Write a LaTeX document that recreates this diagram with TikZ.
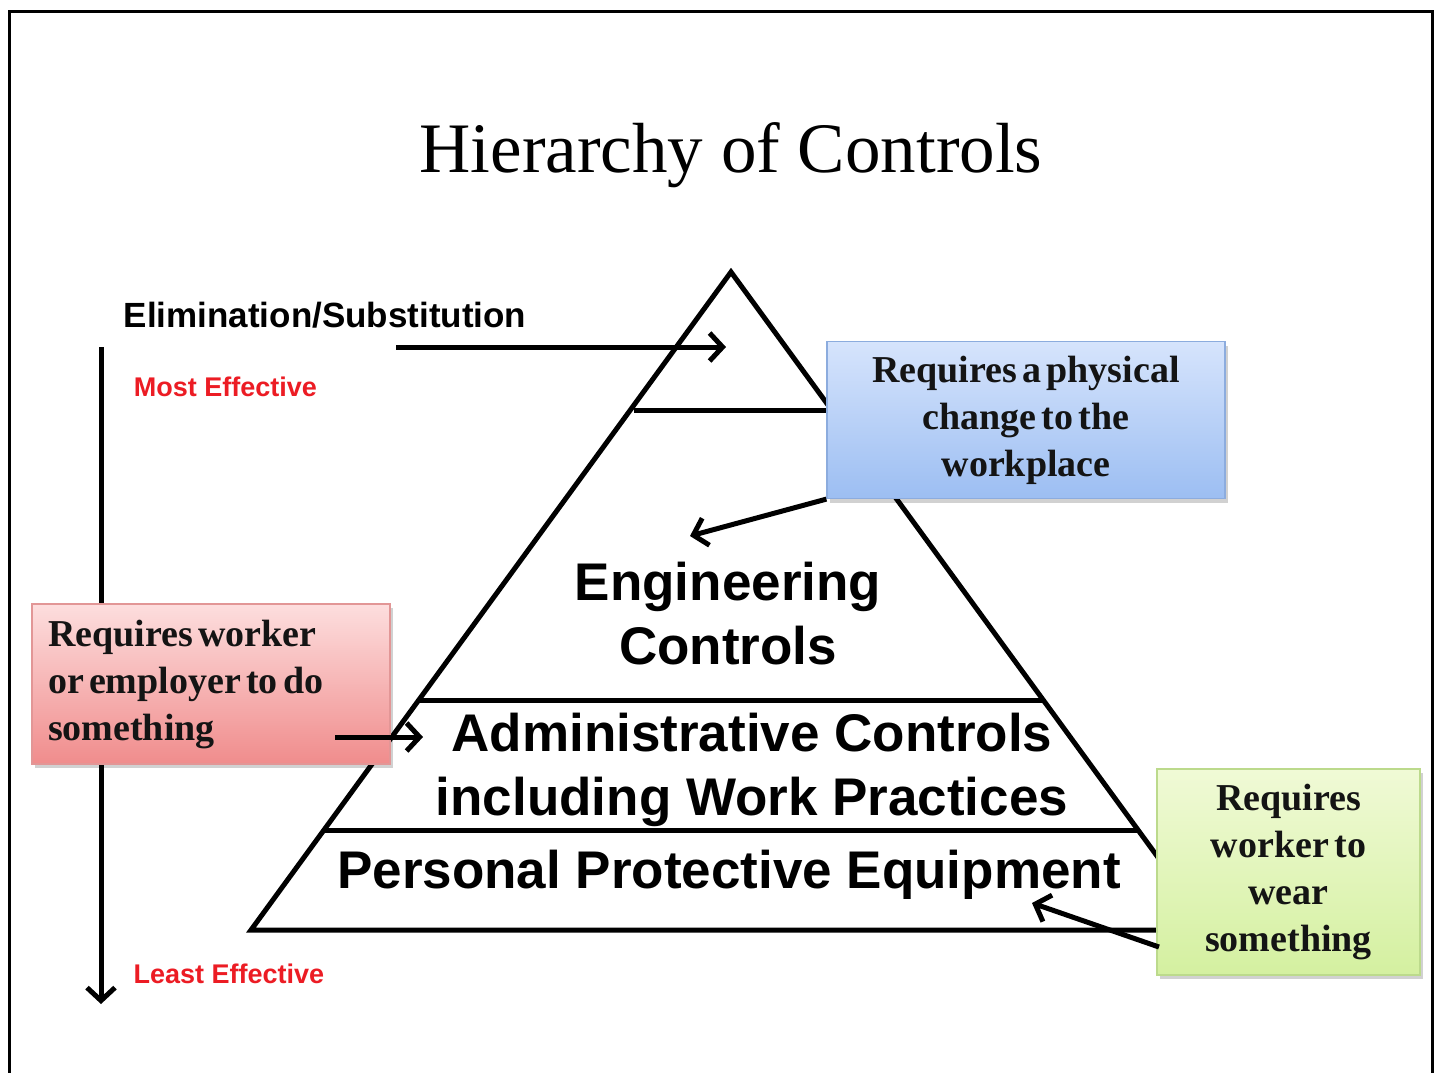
\documentclass[tikz,border=0pt]{standalone}
\usepackage{fontspec}
\setmainfont{Liberation Serif}
\setsansfont{Liberation Sans}
\newfontfamily\boxfont{Liberation Serif}[WordSpace=0.55]
\usetikzlibrary{arrows.meta,shadows}
\definecolor{bluetop}{RGB}{214,228,252}
\definecolor{bluebot}{RGB}{156,190,242}
\definecolor{blueedge}{RGB}{140,172,222}
\definecolor{redtop}{RGB}{253,222,222}
\definecolor{redbot}{RGB}{240,140,140}
\definecolor{rededge}{RGB}{226,150,150}
\definecolor{greentop}{RGB}{240,250,214}
\definecolor{greenbot}{RGB}{212,240,160}
\definecolor{greenedge}{RGB}{188,218,140}
\definecolor{effred}{RGB}{236,28,36}
\tikzset{
  pyr/.style={line width=5pt, line join=miter},
  arr/.style={line width=5pt, -{Straight Barb[length=13pt,width=28pt]}},
  callout/.style={draw, line width=1.2pt, inner xsep=14pt, inner ysep=0pt,
    font=\boxfont\fontsize{38}{47}\selectfont\bfseries, text=black!92,
    drop shadow={shadow xshift=3pt, shadow yshift=-4pt, opacity=0.18, fill=black}},
  levelsans/.style={font=\sffamily\bfseries\fontsize{53}{64}\selectfont, align=center, inner sep=0pt},
  sidelabel/.style={font=\sffamily\bfseries, inner sep=0pt},
}
\begin{document}
\begin{tikzpicture}[x=1pt,y=-1pt]
\useasboundingbox (0,0) rectangle (1438,1072);
\fill[white] (0,0) rectangle (1438,1072);
% frame
\draw[line width=3pt] (9,1080) -- (9,11) -- (1432,11) -- (1432,1080);

% title
\node[font=\fontsize{71}{80}\selectfont, anchor=base, inner sep=0pt] (title) at (731,172) {Hierarchy of Controls};

% pyramid
\coordinate (apex) at (731,272);
\coordinate (bl) at (251,930);
\coordinate (br) at (1211,930);
\draw[pyr] (bl) -- (apex) -- (br) -- cycle;
\draw[pyr] (634,410) -- (832,410);
\draw[pyr] (418,700) -- (1044,700);
\draw[pyr] (323,830) -- (1139,830);

% pyramid texts
\node[levelsans] (eng) at (728,614) {Engineering\\Controls};
\node[levelsans] (admin) at (752,770) {Administrative Controls\\including Work Practices};
\node[levelsans] (ppe) at (729,875) {Personal Protective Equipment};

% left side labels
\node[sidelabel, font=\sffamily\bfseries\fontsize{35}{40}\selectfont] (elim) at (325,315) {Elimination/Substitution};
\node[sidelabel, font=\sffamily\bfseries\fontsize{27}{30}\selectfont, text=effred] (most) at (225.5,387) {Most Effective};
\node[sidelabel, font=\sffamily\bfseries\fontsize{27}{30}\selectfont, text=effred] (least) at (229,974) {Least Effective};

% effectiveness axis
\coordinate (axtop) at (101,347);
\coordinate (axbot) at (101,1004);
\draw[arr] (axtop) -- (axbot);

% elimination arrow
\coordinate (elimstart) at (396,347);
\coordinate (elimend) at (726,347);
\draw[arr] (elimstart) -- (elimend);

% callout boxes
\node[callout, top color=bluetop, bottom color=bluebot, draw=blueedge,
  minimum width=398pt, minimum height=157pt, align=center] (blue) at (1026,420)
  {Requires a physical\\change to the\\workplace};
\node[callout, top color=redtop, bottom color=redbot, draw=rededge,
  minimum width=358pt, minimum height=160pt, text width=326pt, inner xsep=16pt, align=flush left] (red) at (211,684)
  {Requires worker\\or employer to do\\something};
\node[callout, top color=greentop, bottom color=greenbot, draw=greenedge,
  minimum width=263pt, minimum height=206pt, align=center] (green) at (1288.5,872)
  {Requires\\worker to\\wear\\something};

% callout arrows
\coordinate (engtgt) at (690,536);
\draw[arr] (blue.south west) -- (engtgt);
\coordinate (redstart) at (335,737);
\coordinate (admintgt) at (423,737);
\draw[arr] (redstart) -- (admintgt);
\coordinate (greenstart) at (1159,947);
\coordinate (ppetgt) at (1032,903);
\draw[arr] (greenstart) -- (ppetgt);
\end{tikzpicture}
\end{document}
